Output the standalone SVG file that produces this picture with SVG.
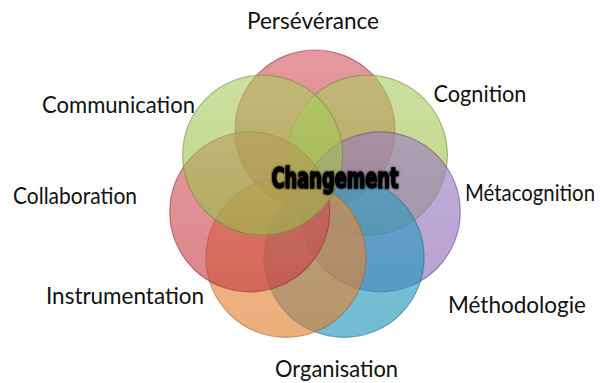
<svg xmlns="http://www.w3.org/2000/svg" width="605" height="383" viewBox="0 0 605 383">
  <defs>
    <linearGradient id="gRed" x1="0" y1="0" x2="0" y2="1">
      <stop offset="0" stop-color="#D45A62"/>
      <stop offset="1" stop-color="#C63A42"/>
    </linearGradient>
    <linearGradient id="gGreen" x1="0" y1="0" x2="0" y2="1">
      <stop offset="0" stop-color="#ADCD62"/>
      <stop offset="1" stop-color="#98BC48"/>
    </linearGradient>
    <linearGradient id="gPurple" x1="0" y1="0" x2="0" y2="1">
      <stop offset="0" stop-color="#9C7CC4"/>
      <stop offset="1" stop-color="#8A68B4"/>
    </linearGradient>
    <linearGradient id="gAqua" x1="0" y1="0" x2="0" y2="1">
      <stop offset="0" stop-color="#2E9DC0"/>
      <stop offset="1" stop-color="#1A93B6"/>
    </linearGradient>
    <linearGradient id="gOrange" x1="0" y1="0" x2="0" y2="1">
      <stop offset="0" stop-color="#E88C40"/>
      <stop offset="1" stop-color="#E07C2A"/>
    </linearGradient>
    <filter id="soft" x="-10%" y="-30%" width="120%" height="160%">
      <feGaussianBlur in="SourceAlpha" stdDeviation="1.2" result="b"/>
      <feMerge>
        <feMergeNode in="b"/>
        <feMergeNode in="SourceGraphic"/>
      </feMerge>
    </filter>
  </defs>
  <style>
    .c { fill-opacity: 0.62; stroke-width: 1.2; stroke-opacity: 0.55; }
    .red { fill: url(#gRed); stroke: #8E3034; }
    .green { fill: url(#gGreen); stroke: #6E8A38; }
    .purple { fill: url(#gPurple); stroke: #5E4682; }
    .aqua { fill: url(#gAqua); stroke: #1F6F88; }
    .orange { fill: url(#gOrange); stroke: #A8602A; }
    .lbl { font-family: Lato, "Open Sans", "Liberation Sans", sans-serif; font-size: 23px; fill: #111; text-anchor: middle; }
    .center { font-family: "Liberation Sans Narrow", "DejaVu Sans Condensed", "Liberation Sans", sans-serif; font-weight: bold; font-size: 29px; fill: #000; stroke: #000; stroke-width: 1.3; text-anchor: middle; }
  </style>

  <g id="circles">
    <g id="node-perseverance"><circle class="c red" cx="315" cy="130" r="80"/></g>
    <g id="node-cognition"><circle class="c green" cx="367.4" cy="155.2" r="80"/></g>
    <g id="node-metacognition"><circle class="c purple" cx="380.3" cy="211.9" r="80"/></g>
    <g id="node-methodologie"><circle class="c aqua" cx="344.1" cy="257.4" r="80"/></g>
    <g id="node-organisation"><circle class="c orange" cx="285.9" cy="257.4" r="80"/></g>
    <g id="node-collaboration"><circle class="c red" cx="249.7" cy="211.9" r="80"/></g>
    <g id="node-communication"><circle class="c green" cx="262.6" cy="155.2" r="80"/></g>
  </g>

  <g id="center">
    <text class="center" x="335" y="188" textLength="127" lengthAdjust="spacingAndGlyphs" filter="url(#soft)">Changement</text>
  </g>

  <g id="labels">
    <text id="t-perseverance" class="lbl" x="313" y="29" textLength="132" lengthAdjust="spacingAndGlyphs">Persévérance</text>
    <text id="t-cognition" class="lbl" x="480" y="102" textLength="93" lengthAdjust="spacingAndGlyphs">Cognition</text>
    <text id="t-communication" class="lbl" x="118.5" y="113" textLength="153" lengthAdjust="spacingAndGlyphs">Communication</text>
    <text id="t-collaboration" class="lbl" x="75" y="204" textLength="124" lengthAdjust="spacingAndGlyphs">Collaboration</text>
    <text id="t-metacognition" class="lbl" x="530" y="201" font-size="21" textLength="130" lengthAdjust="spacingAndGlyphs">Métacognition</text>
    <text id="t-instrumentation" class="lbl" x="125" y="304" textLength="158" lengthAdjust="spacingAndGlyphs">Instrumentation</text>
    <text id="t-methodologie" class="lbl" x="517" y="313" textLength="138" lengthAdjust="spacingAndGlyphs">Méthodologie</text>
    <text id="t-organisation" class="lbl" x="336.5" y="377" textLength="123" lengthAdjust="spacingAndGlyphs">Organisation</text>
  </g>
</svg>
